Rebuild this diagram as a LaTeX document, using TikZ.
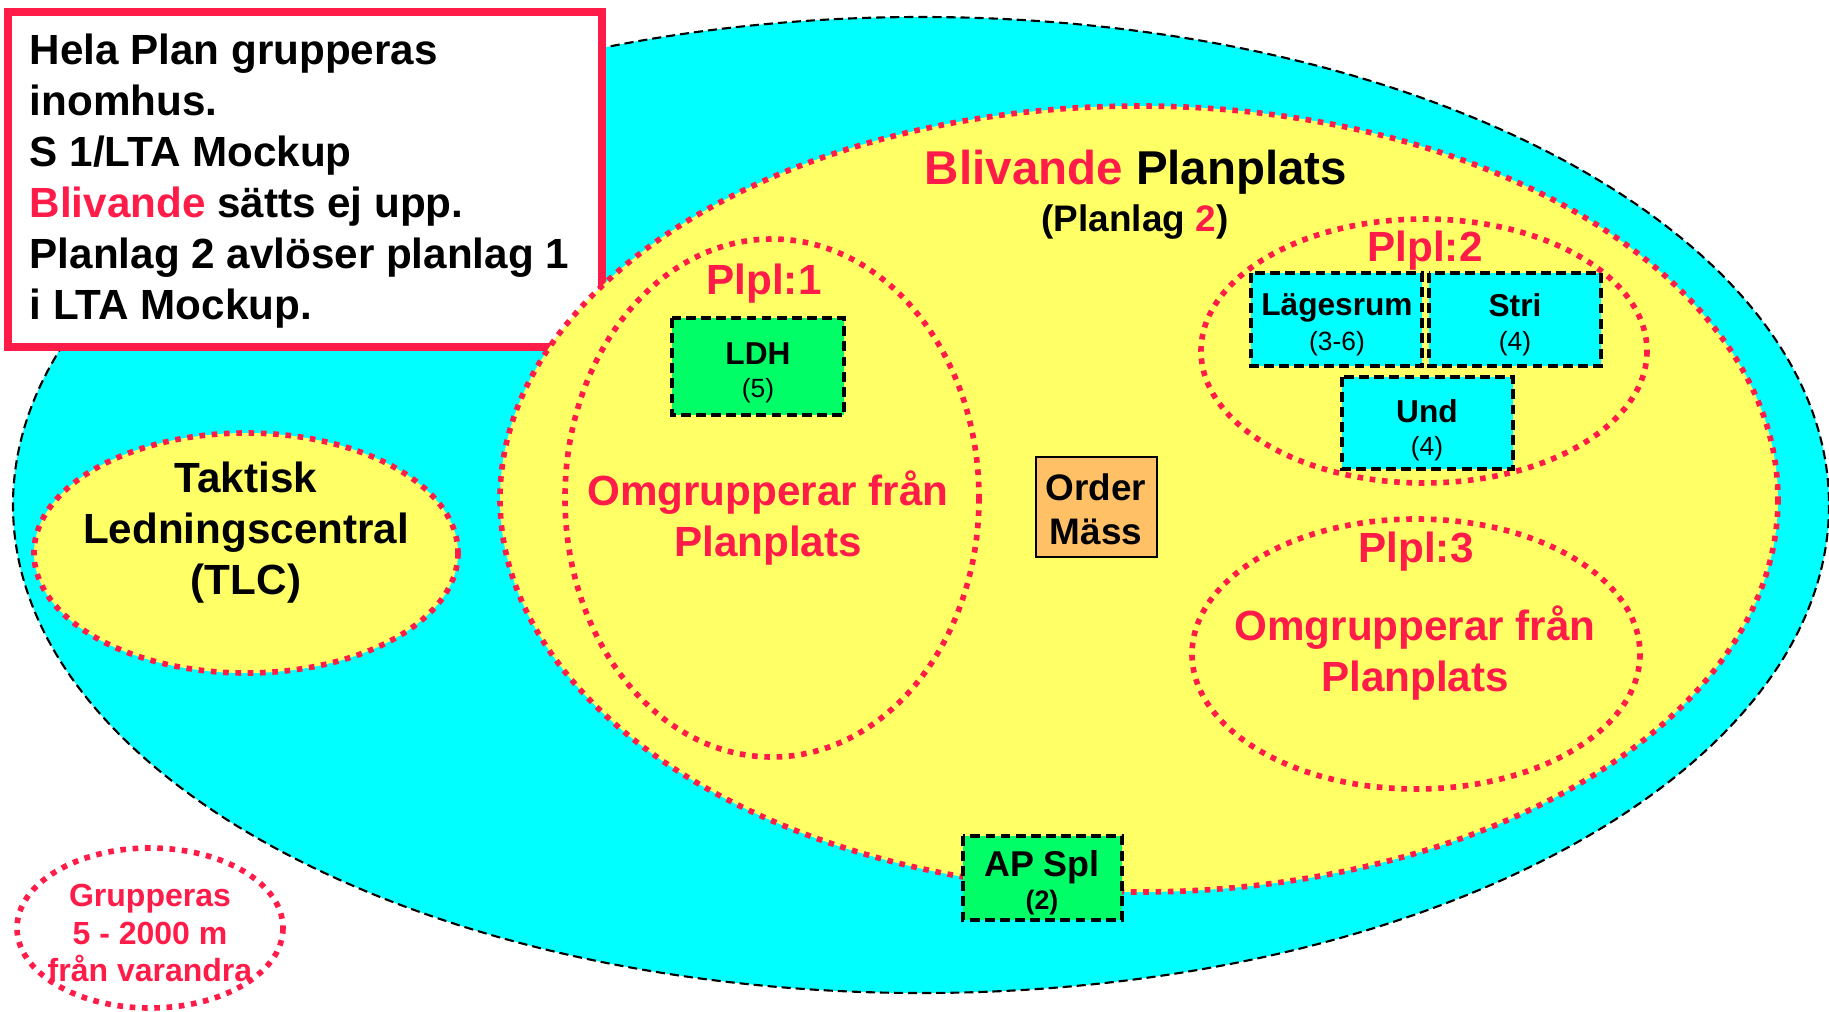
\documentclass[tikz,border=0pt]{standalone}
\usepackage{fontspec}
\setmainfont{Liberation Sans}
\usepackage{tikz}

\definecolor{rojo}{RGB}{255,28,72}
\definecolor{cian}{RGB}{0,255,255}
\definecolor{amarillo}{RGB}{255,255,102}
\definecolor{verde}{RGB}{0,255,102}
\definecolor{naranja}{RGB}{255,192,102}

\tikzset{
  punteado/.style={draw=rojo, line width=1.6pt, dash pattern=on 1.6pt off 1.9pt},
  sala/.style={draw=black, line width=1pt, dash pattern=on 2.8pt off 1.5pt},
  rotulo/.style={inner sep=0pt, align=center},
  titulo/.style={text=rojo, font=\bfseries\fontsize{12}{14.5}\selectfont, align=center},
}

\begin{document}
\begin{tikzpicture}[x=0.01cm, y=-0.01cm]
  \useasboundingbox (0,0) rectangle (1829,1012);

  % Zona exterior
  \draw[fill=cian, line width=0.6pt, dash pattern=on 2.6pt off 1.4pt] (921,505) ellipse [x radius=908, y radius=488];

  % Recuadro de texto
  \draw[draw=rojo, fill=white, line width=2pt] (8,12) rectangle (602,347);
  \node[anchor=north west, inner sep=0pt, align=left, font=\bfseries\fontsize{12}{14.5}\selectfont] (nota) at (29,33)
    {Hela Plan grupperas\\ inomhus.\\ S 1/LTA Mockup\\ \textcolor{rojo}{Blivande} sätts ej upp.\\ Planlag 2 avlöser planlag 1\\ i LTA Mockup.};

  % Planplats
  \draw[punteado, fill=amarillo] (1139,499) ellipse [x radius=639, y radius=393];
  \node[font=\bfseries\fontsize{13.5}{16}\selectfont] (blivande) at (1136,172) {\textcolor{rojo}{Blivande} Planplats};
  \node[font=\bfseries\fontsize{10.5}{12}\selectfont] (planlag) at (1135,222) {(Planlag \textcolor{rojo}{2})};

  % TLC
  \draw[punteado, fill=amarillo] (246,553) ellipse [x radius=212, y radius=120];
  \node[font=\bfseries\fontsize{12}{14.5}\selectfont, align=center] (tlc) at (246,533) {Taktisk\\ Ledningscentral\\ (TLC)};

  % Plpl:1
  \draw[punteado] (772,498) ellipse [x radius=207, y radius=259];
  \node[titulo] (plpl1) at (764,284) {Plpl:1};
  \node[titulo] (omg1) at (768,518) {Omgrupperar från\\ Planplats};
  \draw[sala, fill=verde] (672,318) rectangle (844,415);
  \node[rotulo, font=\bfseries\fontsize{9}{9.3}\selectfont] (ldh) at (758,373)
    {LDH\\ {\mdseries\fontsize{7.5}{9.3}\selectfont (5)}};

  % Plpl:2
  \draw[punteado] (1424,351) ellipse [x radius=223, y radius=132];
  \node[titulo] (plpl2) at (1425,251) {Plpl:2};
  \draw[sala, fill=cian] (1251,273) rectangle (1422,366);
  \draw[sala, fill=cian] (1429,273) rectangle (1601,366);
  \draw[sala, fill=cian] (1342,377) rectangle (1513,469);
  \node[rotulo, font=\bfseries\fontsize{9}{9.8}\selectfont] (lage) at (1337,325)
    {Lägesrum\\ {\mdseries\fontsize{7.5}{9.8}\selectfont (3-6)}};
  \node[rotulo, font=\bfseries\fontsize{9}{9.8}\selectfont] (stri) at (1515,325)
    {Stri\\ {\mdseries\fontsize{7.5}{9.8}\selectfont (4)}};
  \node[rotulo, font=\bfseries\fontsize{9}{9.3}\selectfont] (und) at (1427,430)
    {Und\\ {\mdseries\fontsize{7.5}{9.3}\selectfont (4)}};

  % Plpl:3
  \draw[punteado] (1416,654) ellipse [x radius=224, y radius=135];
  \node[titulo] (plpl3) at (1416,552) {Plpl:3};
  \node[titulo] (omg3) at (1415,653) {Omgrupperar från\\ Planplats};

  % Order och AP
  \draw[draw=black, line width=0.8pt, fill=naranja] (1036,457) rectangle (1157,557);
  \node[rotulo, font=\bfseries\fontsize{10.5}{12.6}\selectfont] (order) at (1096,509) {Order\\ Mäss};
  \draw[sala, fill=verde] (963,836) rectangle (1122,920);
  \node[rotulo, font=\bfseries\fontsize{10.2}{9.4}\selectfont] (apspl) at (1042,883)
    {AP Spl\\ {\fontsize{7.6}{9.4}\selectfont (2)}};

  % Distancia
  \draw[punteado] (150,928) ellipse [x radius=133, y radius=80];
  \node[text=rojo, font=\bfseries\fontsize{9.1}{10.7}\selectfont, align=center] (dist) at (150,933) {Grupperas\\ 5 - 2000 m\\ från varandra};
\end{tikzpicture}
\end{document}
